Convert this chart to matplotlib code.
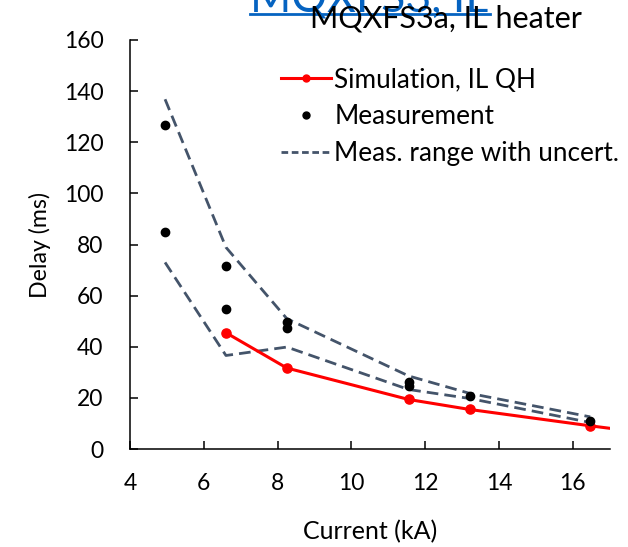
import matplotlib.pyplot as plt
from matplotlib.lines import Line2D

plt.rcParams['font.family'] = ['Lato', 'DejaVu Sans']

# Simulation (IL quench heater)
sim_current = [6.6, 8.25, 11.55, 13.2, 16.47, 18.0]
sim_delay = [45.5, 31.7, 19.4, 15.5, 9.1, 6.3]

# Measurements
meas_current = [4.95, 4.95, 6.6, 6.6, 8.25, 8.25, 11.55, 11.55, 13.2, 16.47]
meas_delay = [126.7, 84.7, 71.7, 54.8, 49.6, 47.4, 26.2, 24.6, 20.7, 10.9]

# Measurement range with uncertainty
range_current = [4.95, 6.6, 8.25, 11.55, 13.2, 16.47]
range_upper = [136.8, 78.9, 51.0, 28.6, 21.8, 12.6]
range_lower = [73.0, 36.6, 39.9, 23.3, 19.8, 10.4]

fig = plt.figure(figsize=(6.28, 5.47), dpi=100)
ax = fig.add_axes([0.207, 0.179, 0.764, 0.748])

dash = (0, (4.2, 2.2))
ax.plot(range_current, range_upper, color='#44546A', lw=2, linestyle=dash)
ax.plot(range_current, range_lower, color='#44546A', lw=2, linestyle=dash)
ax.plot(sim_current, sim_delay, color='#FF0000', lw=2.2, marker='o', ms=6.6)
ax.plot(meas_current, meas_delay, 'o', color='black', ms=6, lw=0)

ax.set_xlim(4, 17)
ax.set_ylim(0, 160)
ax.set_xticks([4, 6, 8, 10, 12, 14, 16])
ax.set_yticks(range(0, 161, 20))
for s in ['top', 'right']:
    ax.spines[s].set_visible(False)
for s in ['left', 'bottom']:
    ax.spines[s].set_color('black')
    ax.spines[s].set_linewidth(1.1)
ax.tick_params(direction='in', length=6, width=1.1, labelsize=16.5)
ax.tick_params(axis='y', pad=19)
ax.tick_params(axis='x', pad=17)
ax.set_xlabel('Current (kA)', fontsize=18, labelpad=19)
ax.set_ylabel('Delay (ms)', fontsize=16.7, labelpad=9.5)

handles = [
    Line2D([], [], color='#FF0000', lw=2.2, marker='o', ms=5),
    Line2D([], [], color='black', marker='o', ms=5, lw=0),
    Line2D([], [], color='#44546A', lw=2, linestyle=(0, (2.4, 1.3))),
]
labels = ['Simulation, IL QH', 'Measurement', 'Meas. range with uncert.']
ax.legend(handles, labels, frameon=False, loc='upper left',
          bbox_to_anchor=(0.294, 0.958), fontsize=18.8, handlelength=1.9,
          handletextpad=0.12, labelspacing=0.45, borderaxespad=0)

# overlapping titles as in the reference
fig.text(0.398, 1 - 11 / 547, 'MQXFS3, IL', color='#0563C1', fontsize=32,
         ha='left', va='baseline')
fig.add_artist(Line2D([0.398, 0.780], [1 - 14 / 547, 1 - 14 / 547],
                      color='#0563C1', lw=2))
fig.text(0.494, 1 - 28 / 547, 'MQXFS3a, IL heater', color='black',
         fontsize=22, ha='left', va='baseline')

fig.savefig('out.png', dpi=100)
